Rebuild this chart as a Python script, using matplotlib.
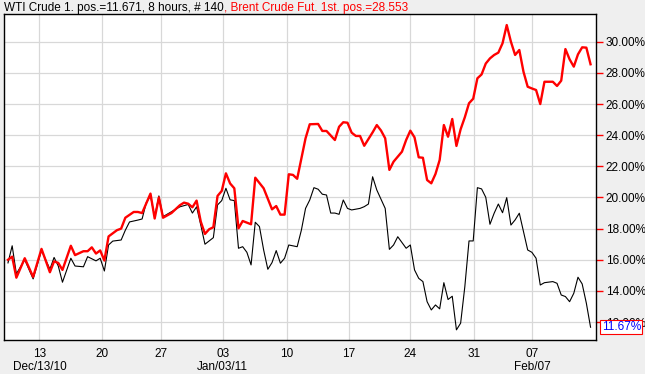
import matplotlib
matplotlib.use("Agg")
import matplotlib.pyplot as plt
from matplotlib.ticker import FuncFormatter, FixedLocator
import matplotlib.transforms as mtransforms

plt.rcParams['font.family'] = ['Liberation Sans', 'DejaVu Sans']

# bar number (8 hour bars, 140 in total) and percentage value
wti_bar = [0, 1, 2, 4, 6, 8, 10, 11, 12, 13, 15, 16, 18, 19, 21, 22, 23, 24, 25, 27,
           28, 29, 31, 32, 33, 34, 35, 36, 37, 41, 43, 44, 45, 46, 47, 49, 50, 51, 52, 53,
           54, 55, 56, 57, 58, 59, 60, 61, 62, 63, 64, 65, 66, 67, 69, 70, 71, 72, 73, 74,
           75, 76, 77, 78, 79, 80, 81, 82, 83, 84, 85, 86, 87, 88, 90, 91, 92, 93, 95, 96,
           97, 98, 99, 100, 101, 102, 103, 104, 105, 106, 107, 108, 109, 110, 111, 112, 113,
           114, 115, 116, 117, 118, 119, 120, 121, 122, 124, 125, 126, 127, 128, 130, 131,
           132, 133, 134, 135, 136, 137, 138, 139]
wti_val = [15.8, 16.9, 15.1, 16.0, 14.77, 16.6, 15.4, 16.15, 15.6, 14.56, 16.1, 15.6, 15.55,
           16.2, 15.93, 16.1, 15.28, 16.95, 17.2, 17.27, 17.9, 18.43, 18.55, 18.62, 19.67,
           20.1, 18.75, 20.1, 18.77, 19.4, 19.55, 19.0, 19.4, 18.23, 17.0, 17.42, 19.52, 19.8,
           20.59, 19.85, 19.8, 16.74, 16.84, 16.48, 15.67, 18.41, 18.13, 16.63, 15.39, 15.82,
           16.59, 15.78, 16.1, 16.95, 16.84, 17.9, 19.3, 19.84, 20.63, 20.53, 20.21, 20.16,
           19.0, 19.0, 18.92, 19.84, 19.3, 19.2, 19.25, 19.3, 19.41, 19.58, 21.33, 20.48,
           19.3, 16.67, 16.95, 17.48, 16.74, 16.95, 15.35, 14.81, 14.6, 13.31, 12.78, 13.1,
           12.85, 14.53, 13.45, 13.66, 11.5, 11.93, 14.27, 17.21, 17.21, 20.63, 20.55, 20.01,
           18.28, 18.99, 19.58, 19.02, 19.99, 18.23, 18.56, 18.99, 16.63, 16.48, 16.1, 14.38,
           14.53, 14.6, 14.49, 13.74, 13.64, 13.31, 13.85, 14.88, 14.45, 13.21, 11.67]

brent_bar = [0, 1, 2, 4, 6, 8, 10, 11, 12, 13, 15, 16, 18, 19, 20, 21, 22, 23, 24, 26,
             27, 28, 30, 31, 32, 34, 35, 36, 37, 39, 41, 42, 43, 44, 45, 46, 47, 48, 49, 50,
             51, 52, 53, 54, 55, 56, 58, 59, 61, 63, 64, 65, 66, 67, 68, 69, 70, 71, 72, 74,
             75, 76, 78, 79, 80, 81, 82, 83, 84, 85, 87, 88, 89, 90, 91, 92, 94, 95, 96, 97,
             98, 99, 100, 101, 102, 103, 104, 105, 106, 107, 108, 109, 110, 111, 112, 113,
             114, 115, 116, 117, 118, 119, 120, 121, 122, 123, 124, 125, 126, 127, 128, 130,
             131, 132, 133, 134, 135, 136, 137, 138, 139]
brent_val = [16.0, 16.2, 14.85, 16.1, 14.9, 16.7, 15.2, 15.9, 15.8, 15.35, 16.9, 16.3, 16.55,
             16.55, 16.8, 16.4, 16.6, 15.95, 17.5, 17.9, 18.0, 18.7, 19.07, 19.07, 19.0,
             20.25, 18.65, 20.0, 18.7, 19.0, 19.5, 19.67, 19.6, 19.37, 19.8, 18.45, 17.66,
             17.96, 18.09, 20.1, 20.42, 21.55, 20.9, 20.59, 18.02, 18.49, 18.28, 21.27, 20.59,
             19.24, 19.45, 18.9, 18.9, 21.49, 21.45, 21.2, 22.5, 23.8, 24.7, 24.72, 24.27,
             24.27, 23.69, 24.54, 24.83, 24.8, 24.16, 23.95, 23.95, 23.32, 24.18, 24.65, 24.3,
             23.8, 21.77, 22.3, 22.94, 23.69, 24.29, 23.86, 22.58, 22.55, 21.12, 20.91, 21.51,
             22.41, 24.65, 23.9, 25.04, 23.31, 24.38, 25.15, 26.05, 26.34, 27.65, 27.9, 28.6,
             28.93, 29.15, 29.3, 29.9, 31.07, 30.0, 29.15, 29.47, 28.07, 27.11, 27.0, 26.9,
             26.0, 27.43, 27.43, 27.16, 27.5, 29.53, 28.87, 28.4, 29.19, 29.64, 29.62, 28.553]

tick_bars = [7.5, 22.5, 36.5, 51.2, 66.5, 81.4, 96, 111.3, 125]
tick_days = ['13', '20', '27', '03', '10', '17', '24', '31', '07']
month_labels = {0: 'Dec/13/10', 3: 'Jan/03/11', 8: 'Feb/07'}
y_ticks = [12, 14, 16, 18, 20, 22, 24, 26, 28, 30]
last_wti = 11.67

W, H = 645, 374
fig = plt.figure(figsize=(W / 100, H / 100), dpi=100, facecolor='#efefef')
ax = fig.add_axes([4 / W, 34 / H, 592 / W, 326 / H])
ax.set_facecolor('white')

ax.plot(wti_bar, wti_val, color='black', lw=0.8, zorder=3)
ax.plot(brent_bar, brent_val, color='#ff0000', lw=1.7, zorder=4)

ax.set_xlim(-0.95, 140.3)
ax.set_ylim(10.85, 31.78)

ax.grid(True, color='#d8d8d8', lw=0.9)
ax.set_axisbelow(True)
for s in ax.spines.values():
    s.set_color('black')
    s.set_linewidth(1.0)

ax.yaxis.tick_right()
ax.yaxis.set_major_locator(FixedLocator(y_ticks))
ax.yaxis.set_major_formatter(FuncFormatter(lambda v, p: '%.2f%%' % v))
ax.tick_params(axis='y', colors='#ff0000', labelcolor='black', length=5, width=1,
               labelsize=8.5, pad=2)

ax.set_xticks(tick_bars)
ax.set_xticklabels(tick_days)
ax.tick_params(axis='x', length=0, labelsize=8.5, pad=6)

trans = mtransforms.blended_transform_factory(ax.transData, fig.transFigure)
for k, lab in month_labels.items():
    ax.text(tick_bars[k], 1 - 367 / H, lab, transform=trans, ha='center', va='center',
            fontsize=8.5)

# current value box
ax.annotate('%.2f%%' % last_wti, xy=(1, last_wti), xycoords=('axes fraction', 'data'),
            xytext=(4, 0), textcoords='offset points', ha='left', va='center',
            fontsize=8.5, color='#0000ff', zorder=10, annotation_clip=False,
            bbox=dict(boxstyle='square,pad=0.1', fc='white', ec='#ff0000', lw=0.8))

# header line, black part then red part
t1 = fig.text(4 / W, 1 - 8 / H, 'WTI Crude 1. pos.=11.671, 8 hours, # 140',
              color='black', fontsize=8.5, va='center', ha='left')
fig.canvas.draw()
bb = t1.get_window_extent()
fig.text(bb.x1 / W, 1 - 8 / H, ', Brent Crude Fut. 1st. pos.=28.553',
         color='#ff0000', fontsize=8.5, va='center', ha='left')

fig.savefig('out.png', dpi=100, facecolor=fig.get_facecolor())
